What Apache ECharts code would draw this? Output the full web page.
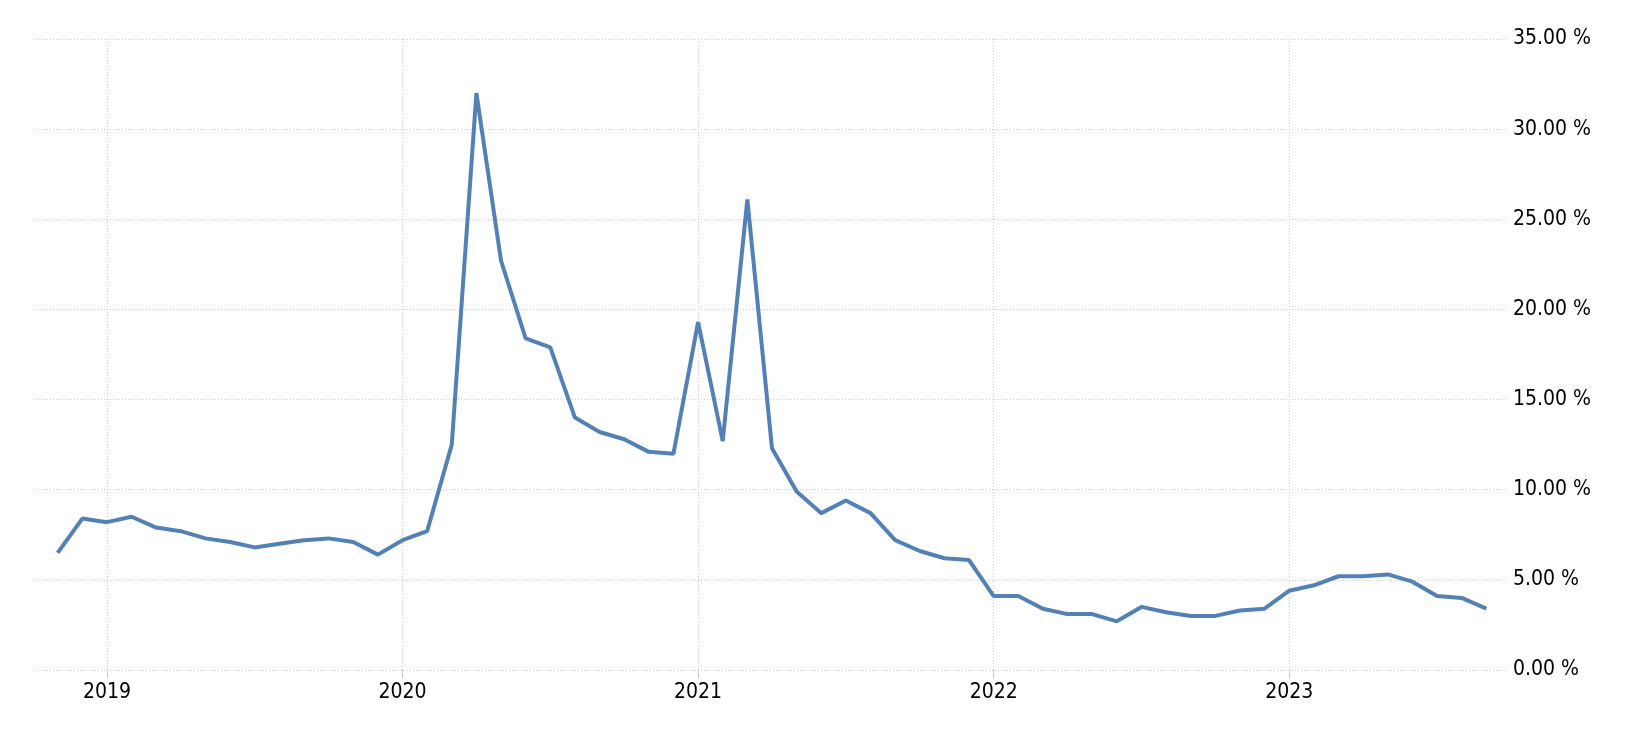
<!DOCTYPE html>
<html>
<head>
<meta charset="utf-8">
<title>Saving rate</title>
<script src="https://cdn.jsdelivr.net/npm/echarts@6/dist/echarts.min.js"></script>
<style>
html,body{margin:0;padding:0;background:#fff;}
#chart-area{width:1634px;height:732px;}
</style>
</head>
<body>
<div id="chart-area"></div>
<script>
// monthly observations, Nov 2018 - Sep 2023
var months = [
	'2018-11','2018-12',
	'2019-01','2019-02','2019-03','2019-04','2019-05','2019-06','2019-07','2019-08','2019-09','2019-10','2019-11','2019-12',
	'2020-01','2020-02','2020-03','2020-04','2020-05','2020-06','2020-07','2020-08','2020-09','2020-10','2020-11','2020-12',
	'2021-01','2021-02','2021-03','2021-04','2021-05','2021-06','2021-07','2021-08','2021-09','2021-10','2021-11','2021-12',
	'2022-01','2022-02','2022-03','2022-04','2022-05','2022-06','2022-07','2022-08','2022-09','2022-10','2022-11','2022-12',
	'2023-01','2023-02','2023-03','2023-04','2023-05','2023-06','2023-07','2023-08','2023-09'
];
var rates = [
	6.5, 8.4,
	8.2, 8.5, 7.9, 7.7, 7.3, 7.1, 6.8, 7.0, 7.2, 7.3, 7.1, 6.4,
	7.2, 7.7, 12.5, 32.0, 22.7, 18.4, 17.9, 14.0, 13.2, 12.8, 12.1, 12.0,
	19.3, 12.7, 26.1, 12.3, 9.9, 8.7, 9.4, 8.7, 7.2, 6.6, 6.2, 6.1,
	4.1, 4.1, 3.4, 3.1, 3.1, 2.7, 3.5, 3.2, 3.0, 3.0, 3.3, 3.4,
	4.4, 4.7, 5.2, 5.2, 5.3, 4.9, 4.1, 4.0, 3.4
];
var yearLabels = ['2019', '2020', '2021', '2022', '2023'];

// month index counted from Jan 2019
function monthIndex(str){
	var p = str.split('-');
	return (parseInt(p[0], 10) - 2019) * 12 + parseInt(p[1], 10) - 1;
}
var yearTicks = [];
for (var i = 0; i < yearLabels.length; i++) {
	yearTicks.push(monthIndex(yearLabels[i] + '-01'));
}
var points = [];
for (var j = 0; j < months.length; j++) {
	points.push([monthIndex(months[j]), rates[j]]);
}

var labelFont = '"DejaVu Sans Condensed", "DejaVu Sans", sans-serif';
var gridStyle = {color: '#cfcfcf', width: 1, type: [1, 2]};

var myChart = echarts.init(document.getElementById('chart-area'));
var option = {
	animation: false,
	backgroundColor: '#fff',
	grid: {left: 35, right: 127, top: 39, bottom: 62},
	xAxis: {
		type: 'value',
		min: -2.92,
		max: 56.84,
		axisLine: {show: false},
		axisTick: {
			show: true,
			customValues: yearTicks,
			length: 8,
			lineStyle: {color: '#cccccc'}
		},
		axisLabel: {
			customValues: yearTicks,
			margin: 12,
			fontSize: 21,
			fontFamily: labelFont,
			color: '#000',
			formatter: function(v){
				return yearLabels[yearTicks.indexOf(v)];
			}
		},
		splitLine: {show: true, lineStyle: gridStyle}
	},
	yAxis: {
		type: 'value',
		position: 'right',
		min: 0,
		max: 35,
		interval: 5,
		axisLine: {show: false},
		axisTick: {show: false},
		axisLabel: {
			margin: 6,
			fontSize: 21,
			fontFamily: labelFont,
			color: '#000',
			formatter: function(v){
				return v.toFixed(2) + ' %';
			}
		},
		splitLine: {show: true, lineStyle: gridStyle}
	},
	series: [{
		type: 'line',
		data: points,
		showSymbol: false,
		lineStyle: {color: '#5481b5', width: 4},
		itemStyle: {color: '#5481b5'}
	}]
};
myChart.setOption(option);
</script>
</body>
</html>
